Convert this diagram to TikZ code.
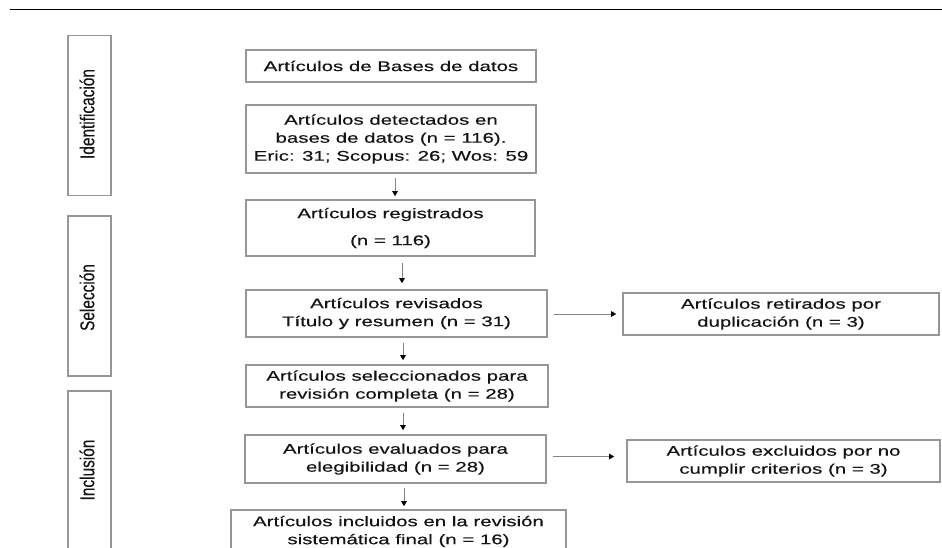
\documentclass[tikz,border=0pt]{standalone}
\usepackage{fontspec}
\setmainfont{Liberation Sans}[FakeStretch=1.46,FakeBold=0.4]
\newfontfamily\sidefont{Liberation Sans}[FakeStretch=0.77,FakeBold=0.4]
\usetikzlibrary{arrows.meta}
\definecolor{boxgray}{HTML}{969696}
\definecolor{linegray}{HTML}{858585}
\definecolor{txt}{HTML}{141414}
\begin{document}
\begin{tikzpicture}[x=1pt,y=-1pt,
  box/.style={draw=boxgray, line width=1.6pt, align=center, inner sep=0pt, text=txt,
    font=\fontsize{14}{18}\selectfont},
  sidebox/.style={draw=boxgray, line width=1.6pt, inner sep=0pt},
  sidelabel/.style={rotate=90, font=\sidefont\fontsize{20}{24}\selectfont, text=txt, inner sep=0pt},
  arr/.style={draw=linegray, line width=0.9pt, -{Triangle[length=5pt,width=5.5pt,black]}},
]
\useasboundingbox (0,0) rectangle (942,548);

% top rule
\coordinate (ruleL) at (10,10);
\coordinate (ruleR) at (942,10);
\draw[black, line width=1pt] (ruleL) -- (ruleR);

% side phase boxes
\node[sidebox, minimum width=43pt, minimum height=160pt] (sI) at (89.5,115.5) {};
\node[sidelabel] (lI) at (87,114) {Identificación};
\node[sidebox, minimum width=43pt, minimum height=160pt] (sS) at (89.5,296) {};
\node[sidelabel] (lS) at (87,297.5) {Selección};
\node[sidebox, minimum width=43pt, minimum height=179pt] (sN) at (89.5,480.5) {};
\node[sidelabel] (lN) at (87,470) {Inclusión};

% main column
\node[box, minimum width=290pt, minimum height=32pt] (b1) at (391,66) {Artículos de Bases de datos};
\node[box, minimum width=290pt, minimum height=68pt] (b2) at (391,139)
  {Artículos detectados en\\bases de datos (n = 116).\\Eric: 31; Scopus: 26; Wos: 59};
\node[box, minimum width=289pt, minimum height=56pt] (b3) at (390.5,228)
  {Artículos registrados\\[9pt](n = 116)};
\node[box, minimum width=301pt, minimum height=47pt] (b4) at (396.5,313.5)
  {Artículos revisados\\Título y resumen (n = 31)};
\node[box, minimum width=302pt, minimum height=42pt] (b5) at (397,386)
  {Artículos seleccionados para\\revisión completa (n = 28)};
\node[box, minimum width=301pt, minimum height=48pt] (b6) at (395.5,459)
  {Artículos evaluados para\\elegibilidad (n = 28)};
\node[box, minimum width=335pt, minimum height=43pt] (b7) at (398.5,531.5)
  {Artículos incluidos en la revisión\\sistemática final (n = 16)};

% right column
\node[box, minimum width=316pt, minimum height=42pt] (r1) at (781,314)
  {Artículos retirados por\\duplicación (n = 3)};
\node[box, minimum width=313pt, minimum height=42pt] (r2) at (783.5,461)
  {Artículos excluidos por no\\cumplir criterios (n = 3)};

% vertical arrows
\draw[arr, shorten <=4pt, shorten >=3pt] ([xshift=4pt]b2.south) -- ([xshift=4.5pt]b3.north);
\draw[arr, shorten <=6pt, shorten >=6pt] ([xshift=11.5pt]b3.south) -- ([xshift=5.5pt]b4.north);
\draw[arr, shorten <=5pt, shorten >=4pt] ([xshift=6.5pt]b4.south) -- ([xshift=6pt]b5.north);
\draw[arr, shorten <=5pt, shorten >=4pt] ([xshift=6pt]b5.south) -- ([xshift=7.5pt]b6.north);
\draw[arr, shorten <=4pt, shorten >=3pt] ([xshift=8.5pt]b6.south) -- ([xshift=5.5pt]b7.north);

% horizontal arrows
\draw[arr, shorten <=6pt, shorten >=6pt] ([yshift=-0.5pt]b4.east) -- ([yshift=0pt]r1.west);
\draw[arr, shorten <=6pt, shorten >=12pt] ([yshift=2.5pt]b6.east) -- ([yshift=4.5pt]r2.west);
\end{tikzpicture}
\end{document}
